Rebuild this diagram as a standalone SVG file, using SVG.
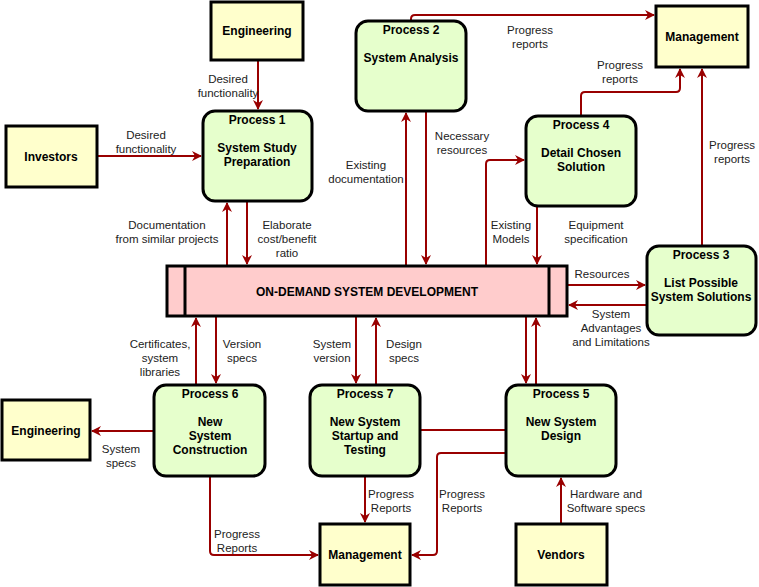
<svg xmlns="http://www.w3.org/2000/svg" width="759" height="587" viewBox="0 0 759 587">
<defs>
<marker id="a" viewBox="0 0 10 10" refX="9" refY="5" markerWidth="10" markerHeight="10" markerUnits="userSpaceOnUse" orient="auto"><path d="M0,0 L10,5 L0,10 L3,5 Z" fill="#990000"/></marker>
<style>
.p{fill:#e6ffcc;stroke:#000;stroke-width:3}
.e{fill:#ffffcc;stroke:#000;stroke-width:3}
.c{fill:none;stroke:#990000;stroke-width:2}
.ar{marker-end:url(#a)}
text{font-family:"Liberation Sans",Arial,sans-serif;font-size:11.5px;fill:#222;text-anchor:middle}
.b{font-weight:bold;font-size:12px;fill:#000}
</style>
</defs>
<g id="connectors">
<path class="c ar" d="M258,60 V109"/>
<path class="c ar" d="M97,156 H201"/>
<path class="c ar" d="M411,21 V19 Q411,15 415,15 H654"/>
<path class="c ar" d="M581,116 V96 Q581,92 585,92 H676 Q680,92 680,88 V69"/>
<path class="c ar" d="M702,246 V69"/>
<path class="c ar" d="M227,266 V203"/>
<path class="c ar" d="M247,201 V264"/>
<path class="c ar" d="M406,266 V113"/>
<path class="c ar" d="M426,111 V264"/>
<path class="c ar" d="M486,266 V164 Q486,160 490,160 H524"/>
<path class="c ar" d="M537,206 V264"/>
<path class="c ar" d="M567,285 H645"/>
<path class="c ar" d="M647,305 H569"/>
<path class="c ar" d="M196,385 V318"/>
<path class="c ar" d="M216,316 V383"/>
<path class="c ar" d="M356,316 V383"/>
<path class="c ar" d="M376,385 V318"/>
<path class="c ar" d="M526,316 V383"/>
<path class="c ar" d="M536,385 V318"/>
<path class="c ar" d="M154,431 H92"/>
<path class="c" d="M420,430 H506"/>
<path class="c ar" d="M365,476 V522"/>
<path class="c ar" d="M210,476 V551 Q210,555 214,555 H318"/>
<path class="c ar" d="M506,453 H441 Q437,453 437,457 V551 Q437,555 433,555 H412"/>
<path class="c ar" d="M561,524 V478"/>
</g>
<g id="labels">
<text x="228" y="83">Desired</text><text x="228" y="97">functionality</text>
<text x="146" y="139">Desired</text><text x="146" y="153">functionality</text>
<text x="530" y="34">Progress</text><text x="530" y="48">reports</text>
<text x="620" y="69">Progress</text><text x="620" y="83">reports</text>
<text x="732" y="149">Progress</text><text x="732" y="163">reports</text>
<text x="462" y="140">Necessary</text><text x="462" y="154">resources</text>
<text x="366" y="169">Existing</text><text x="366" y="183">documentation</text>
<text x="167" y="229">Documentation</text><text x="167" y="243">from similar projects</text>
<text x="287" y="229">Elaborate</text><text x="287" y="243">cost/benefit</text><text x="287" y="257">ratio</text>
<text x="511" y="229">Existing</text><text x="511" y="243">Models</text>
<text x="596" y="229">Equipment</text><text x="596" y="243">specification</text>
<text x="602" y="278">Resources</text>
<text x="611" y="318">System</text><text x="611" y="332">Advantages</text><text x="611" y="346">and Limitations</text>
<text x="160" y="348">Certificates,</text><text x="160" y="362">system</text><text x="160" y="376">libraries</text>
<text x="242" y="348">Version</text><text x="242" y="362">specs</text>
<text x="332" y="348">System</text><text x="332" y="362">version</text>
<text x="404" y="348">Design</text><text x="404" y="362">specs</text>
<text x="121" y="453">System</text><text x="121" y="467">specs</text>
<text x="391" y="498">Progress</text><text x="391" y="512">Reports</text>
<text x="462" y="498">Progress</text><text x="462" y="512">Reports</text>
<text x="237" y="538">Progress</text><text x="237" y="552">Reports</text>
<text x="606" y="498">Hardware and</text><text x="606" y="512">Software specs</text>
</g>
<g id="bar">
<rect x="167" y="266" width="400" height="50" fill="#ffcccc" stroke="#000" stroke-width="3"/>
<line x1="185" y1="266" x2="185" y2="316" stroke="#000" stroke-width="3"/>
<line x1="549" y1="266" x2="549" y2="316" stroke="#000" stroke-width="3"/>
<text class="b" x="367" y="296">ON-DEMAND SYSTEM DEVELOPMENT</text>
</g>
<g id="eng1"><rect class="e" x="211" y="2" width="92" height="58"/><text class="b" x="257" y="35">Engineering</text></g>
<g id="investors"><rect class="e" x="6" y="126" width="91" height="61"/><text class="b" x="51" y="161">Investors</text></g>
<g id="mgmt1"><rect class="e" x="656" y="6" width="92" height="61"/><text class="b" x="702" y="41">Management</text></g>
<g id="eng2"><rect class="e" x="2" y="400" width="88" height="60"/><text class="b" x="46" y="435">Engineering</text></g>
<g id="mgmt2"><rect class="e" x="320" y="524" width="90" height="61"/><text class="b" x="365" y="559">Management</text></g>
<g id="vendors"><rect class="e" x="516" y="524" width="91" height="61"/><text class="b" x="561" y="559">Vendors</text></g>
<g id="p1"><rect class="p" x="203" y="111" width="109" height="90" rx="12"/><text class="b" x="257" y="124">Process 1</text><text class="b" x="257" y="152">System Study</text><text class="b" x="257" y="166">Preparation</text></g>
<g id="p2"><rect class="p" x="356" y="21" width="110" height="90" rx="12"/><text class="b" x="411" y="34">Process 2</text><text class="b" x="411" y="62">System Analysis</text></g>
<g id="p4"><rect class="p" x="526" y="116" width="110" height="90" rx="12"/><text class="b" x="581" y="129">Process 4</text><text class="b" x="581" y="157">Detail Chosen</text><text class="b" x="581" y="171">Solution</text></g>
<g id="p3"><rect class="p" x="647" y="246" width="109" height="89" rx="12"/><text class="b" x="701" y="259">Process 3</text><text class="b" x="701" y="287">List Possible</text><text class="b" x="701" y="301">System Solutions</text></g>
<g id="p6"><rect class="p" x="154" y="385" width="111" height="91" rx="12"/><text class="b" x="210" y="398">Process 6</text><text class="b" x="210" y="426">New</text><text class="b" x="210" y="440">System</text><text class="b" x="210" y="454">Construction</text></g>
<g id="p7"><rect class="p" x="310" y="385" width="110" height="91" rx="12"/><text class="b" x="365" y="398">Process 7</text><text class="b" x="365" y="426">New System</text><text class="b" x="365" y="440">Startup and</text><text class="b" x="365" y="454">Testing</text></g>
<g id="p5"><rect class="p" x="506" y="385" width="110" height="91" rx="12"/><text class="b" x="561" y="398">Process 5</text><text class="b" x="561" y="426">New System</text><text class="b" x="561" y="440">Design</text></g>
</svg>
